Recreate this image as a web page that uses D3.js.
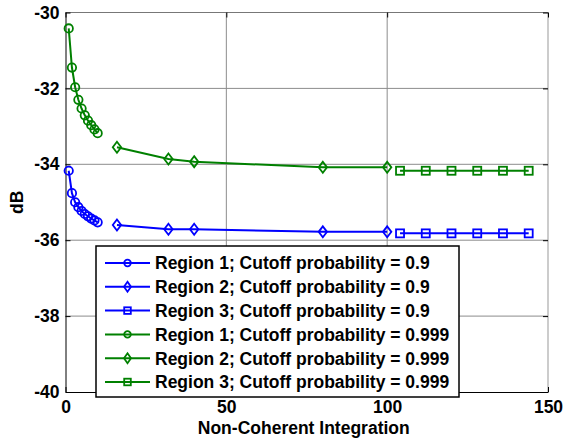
<!DOCTYPE html>
<html>
<head>
<meta charset="utf-8">
<script src="https://cdn.jsdelivr.net/npm/d3@7"></script>
<style>
  body { margin: 0; background: #fff; }
  text { font-family: "Liberation Sans", Arial, sans-serif; font-weight: bold; }
</style>
</head>
<body>
<div id="chart"></div>
<script>
// x positions (number of non-coherent integrations) for each region
const xRegion1 = [1, 2, 3, 4, 5, 6, 7, 8, 9, 10];
const xRegion2 = [16, 32, 40, 80, 100];
const xRegion3 = [104, 112, 120, 128, 136, 144];

// dB values, cutoff probability 0.9
const dbP09R1 = [-34.17, -34.76, -35.00, -35.13, -35.23, -35.31, -35.37, -35.43, -35.48, -35.53];
const dbP09R2 = [-35.60, -35.71, -35.71, -35.78, -35.78];
const dbP09R3 = [-35.82, -35.82, -35.82, -35.82, -35.82, -35.82];

// dB values, cutoff probability 0.999
const dbP999R1 = [-30.42, -31.45, -31.97, -32.30, -32.53, -32.71, -32.85, -32.97, -33.08, -33.18];
const dbP999R2 = [-33.55, -33.86, -33.93, -34.08, -34.08];
const dbP999R3 = [-34.17, -34.17, -34.17, -34.17, -34.17, -34.17];

const xTicks = [0, 50, 100, 150];
const yTicks = [-40, -38, -36, -34, -32, -30];

const series = [
  { name: "Region 1; Cutoff probability = 0.9",   x: xRegion1, y: dbP09R1,  color: "#0000ff", marker: "circle" },
  { name: "Region 2; Cutoff probability = 0.9",   x: xRegion2, y: dbP09R2,  color: "#0000ff", marker: "diamond" },
  { name: "Region 3; Cutoff probability = 0.9",   x: xRegion3, y: dbP09R3,  color: "#0000ff", marker: "square" },
  { name: "Region 1; Cutoff probability = 0.999", x: xRegion1, y: dbP999R1, color: "#008000", marker: "circle" },
  { name: "Region 2; Cutoff probability = 0.999", x: xRegion2, y: dbP999R2, color: "#008000", marker: "diamond" },
  { name: "Region 3; Cutoff probability = 0.999", x: xRegion3, y: dbP999R3, color: "#008000", marker: "square" }
];

const width = 565, height = 438;
const margin = { top: 12.5, right: 17, bottom: 46, left: 65.5 };

const svg = d3.select("#chart").append("svg")
  .attr("width", width)
  .attr("height", height);

const x = d3.scaleLinear().domain([0, 150]).range([margin.left, width - margin.right]);
const y = d3.scaleLinear().domain([-40, -30]).range([height - margin.bottom, margin.top]);

const x0 = x(0), x1 = x(150), y0 = y(-40), y1 = y(-30);

// grid lines
svg.append("g")
  .selectAll("line.vg")
  .data(xTicks.filter(d => d > 0 && d < 150))
  .join("line")
    .attr("x1", d => x(d)).attr("x2", d => x(d))
    .attr("y1", y1).attr("y2", y0)
    .attr("stroke", "#8c8c8c").attr("stroke-width", 1);

svg.append("g")
  .selectAll("line.hg")
  .data(yTicks.filter(d => d > -40 && d < -30))
  .join("line")
    .attr("x1", x0).attr("x2", x1)
    .attr("y1", d => y(d)).attr("y2", d => y(d))
    .attr("stroke", "#8c8c8c").attr("stroke-width", 1);

// frame: top and right lighter
svg.append("line").attr("x1", x0).attr("x2", x1).attr("y1", y1).attr("y2", y1).attr("stroke", "#777");
svg.append("line").attr("x1", x1).attr("x2", x1).attr("y1", y1).attr("y2", y0).attr("stroke", "#999");

const plainFmt = d => String(d);  // hyphen minus, like the original

// axes with inward ticks
svg.append("g")
  .attr("transform", `translate(0,${y0})`)
  .call(d3.axisBottom(x).tickValues(xTicks).tickFormat(plainFmt).tickSizeInner(-5).tickSizeOuter(0).tickPadding(9))
  .call(g => g.select(".domain").attr("stroke", "#000"))
  .call(g => g.selectAll("text").attr("font-size", "17.5px").attr("fill", "#000")
    .style("font-family", "'Liberation Sans', Arial, sans-serif").style("font-weight", "bold"));

svg.append("g")
  .attr("transform", `translate(${x0},0)`)
  .call(d3.axisLeft(y).tickValues(yTicks).tickFormat(plainFmt).tickSizeInner(-5).tickSizeOuter(0).tickPadding(6))
  .call(g => g.select(".domain").attr("stroke", "#000"))
  .call(g => g.selectAll("text").attr("font-size", "17.5px").attr("fill", "#000")
    .style("font-family", "'Liberation Sans', Arial, sans-serif").style("font-weight", "bold"));

// ticks on top and right
svg.append("g")
  .attr("transform", `translate(0,${y1})`)
  .call(d3.axisTop(x).tickValues(xTicks).tickSizeInner(-5).tickSizeOuter(0).tickFormat(""))
  .call(g => g.select(".domain").remove());
svg.append("g")
  .attr("transform", `translate(${x1},0)`)
  .call(d3.axisRight(y).tickValues(yTicks).tickSizeInner(-5).tickSizeOuter(0).tickFormat(""))
  .call(g => g.select(".domain").remove());

// axis titles
svg.append("text")
  .attr("x", (x0 + x1) / 2 - 3)
  .attr("y", 434)
  .attr("text-anchor", "middle")
  .attr("font-size", "17.5px")
  .text("Non-Coherent Integration");

svg.append("text")
  .attr("transform", `translate(23,${(y0 + y1) / 2}) rotate(-90)`)
  .attr("text-anchor", "middle")
  .attr("font-size", "17.5px")
  .text("dB");

// marker drawing helper
function drawMarker(sel, type, color) {
  if (type === "circle") {
    sel.append("circle").attr("r", 4.2);
  } else if (type === "diamond") {
    sel.append("path").attr("d", "M0,-5.5L4.2,0L0,5.5L-4.2,0Z");
  } else {
    sel.append("rect").attr("x", -4).attr("y", -4).attr("width", 8).attr("height", 8);
  }
  sel.selectAll("circle,path,rect")
    .attr("fill", "none")
    .attr("stroke", color)
    .attr("stroke-width", 1.8);
}

const line = d3.line().x(d => x(d[0])).y(d => y(d[1]));

series.forEach(s => {
  const pts = s.x.map((v, i) => [v, s.y[i]]);
  const g = svg.append("g");
  g.append("path")
    .attr("d", line(pts))
    .attr("fill", "none")
    .attr("stroke", s.color)
    .attr("stroke-width", 2);
  g.selectAll("g.m")
    .data(pts)
    .join("g")
      .attr("transform", d => `translate(${x(d[0])},${y(d[1])})`)
      .each(function() { drawMarker(d3.select(this), s.marker, s.color); });
});

// legend
const legend = svg.append("g");
const lx = 96, ly = 246, lw = 363, lh = 151, rowH = 23.8;
legend.append("rect")
  .attr("x", lx).attr("y", ly).attr("width", lw).attr("height", lh)
  .attr("fill", "#fff").attr("stroke", "#000").attr("stroke-width", 1.5);

series.forEach((s, i) => {
  const cy = 263 + i * rowH;
  const row = legend.append("g");
  row.append("line")
    .attr("x1", 105).attr("x2", 150).attr("y1", cy).attr("y2", cy)
    .attr("stroke", s.color).attr("stroke-width", 2);
  const m = row.append("g").attr("transform", `translate(127.5,${cy})`);
  drawMarker(m, s.marker, s.color);
  m.selectAll("circle").attr("r", 3.3);
  m.selectAll("rect").attr("x", -3.3).attr("y", -3.3).attr("width", 6.6).attr("height", 6.6);
  m.selectAll("path").attr("d", "M0,-5L3.5,0L0,5L-3.5,0Z");
  row.append("text")
    .attr("x", 155).attr("y", cy + 6.3)
    .attr("font-size", "17.5px")
    .text(s.name);
});
</script>
</body>
</html>
